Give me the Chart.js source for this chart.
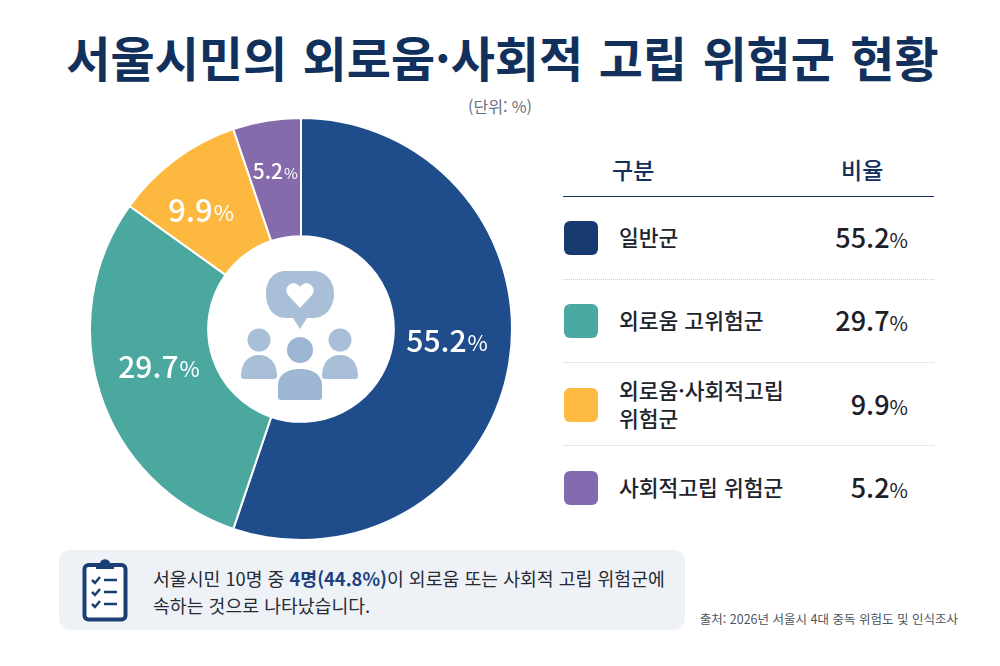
<!DOCTYPE html>
<html lang="ko">
<head>
<meta charset="utf-8">
<title>서울시민의 외로움·사회적 고립 위험군 현황</title>
<script src="https://cdn.jsdelivr.net/npm/chart.js@4"></script>
<style>
  html, body { margin: 0; padding: 0; background: #fff; }
  body { width: 1000px; height: 666px; position: relative; overflow: hidden;
         font-family: "Noto Sans CJK KR", "Noto Sans", sans-serif; color: #20242c; }
  .abs { position: absolute; }
  #title { left: 0; width: 1005px; top: 22px; text-align: center; font-size: 48px; font-weight: 700;
           color: #12305c; line-height: 68px; white-space: nowrap; word-spacing: 2px; }
  #unit { left: 0; width: 1000px; top: 95px; text-align: center; font-size: 16px; color: #67707e; line-height: 22px; }
  #chart-wrap { left: 89px; top: 117px; width: 424px; height: 424px; }
  #center-icon { left: 236px; top: 268px; }
  .head { top: 154px; font-size: 23px; font-weight: 500; color: #12305c; line-height: 30px; }
  #head-rule { left: 563px; top: 196px; width: 371px; border-top: 1.5px solid #1b3565; }
  .rule { left: 563px; width: 371px; border-top: 1.5px dotted #c9cfd8; }
  .swatch { left: 564px; width: 34px; height: 34px; border-radius: 6px; }
  .name { left: 619px; width: 200px; font-size: 21.500px; font-weight: 500; line-height: 28px; transform: translateY(-50%); white-space: nowrap; }
  .val { right: 92px; font-size: 27px; font-weight: 500; line-height: 32px; transform: translateY(-50%); color: #1d2026; }
  .val small { font-size: 20px; font-weight: 400; }
  #note { left: 59px; top: 550px; width: 626px; height: 80px; border-radius: 11px; background: #eef2f7; }
  #note-text { left: 153px; top: 565px; font-size: 18.300px; line-height: 27px; color: #262a33; white-space: nowrap; }
  #note-text b { color: #1c417f; font-weight: 700; }
  #source { right: 42px; top: 609px; font-size: 12.500px; line-height: 20px; color: #4d5561; white-space: nowrap; }
</style>
</head>
<body>
<div id="title" class="abs">서울시민의 외로움·사회적 고립 위험군 현황</div>
<div id="unit" class="abs">(단위: %)</div>

<div id="chart-wrap" class="abs"><canvas id="pie" width="424" height="424"></canvas></div>

<svg id="center-icon" class="abs" width="130" height="136" viewBox="0 0 130 136">
  <g fill="#a9bfd8">
    <path d="M50 3h27c13 0 21 10 21 23s-8 24-21 24h-6l-7 11-7-11h-7c-13 0-20-11-20-24S37 3 50 3z"/>
    <circle cx="23" cy="72" r="11.500"/><path d="M5 108c0-14 8-21 18-21s18 7 18 21c0 2-1 3-3 3H8c-2 0-3-1-3-3z"/>
    <circle cx="104" cy="72" r="11.500"/><path d="M86 108c0-14 8-21 18-21s18 7 18 21c0 2-1 3-3 3H89c-2 0-3-1-3-3z"/>
  </g>
  <g fill="#9db6d3">
    <circle cx="64" cy="82" r="13"/>
    <path d="M42 129v-11c0-12 10-17 22-17s22 5 22 17v11c0 2-1 3-3 3H45c-2 0-3-1-3-3z"/>
  </g>
  <path d="M64 40L52 27c-6-8 6-17 12-8 6-9 18 0 12 8z" fill="#fff"/>
</svg>

<div class="abs head" style="left:612px">구분</div>
<div class="abs head" style="left:841px">비율</div>
<div id="head-rule" class="abs"></div>
<div id="legend"></div>

<div id="note" class="abs"></div>
<svg class="abs" style="left:82px;top:557px" width="46" height="66" viewBox="0 0 46 66">
  <rect x="2.500" y="8" width="41" height="54.500" rx="4" fill="#fff" stroke="#1b3e74" stroke-width="4"/>
  <path d="M14 8c0-2 3-2 4-2 1-5 9-5 10 0 1 0 4 0 4 2v4H14z" fill="#1b3e74"/>
  <g fill="none" stroke="#1b3e74" stroke-width="2.500">
    <path d="M10 23l3 3 5-6M22 23h13M10 35l3 3 5-6M22 35h13M10 47l3 3 5-6M22 47h13"/>
  </g>
</svg>
<div id="note-text" class="abs">서울시민 10명 중 <b>4명(44.8%)</b>이 외로움 또는 사회적 고립 위험군에<br>속하는 것으로 나타났습니다.</div>
<div id="source" class="abs">출처: 2026년 서울시 4대 중독 위험도 및 인식조사</div>

<script>
const categories = ['일반군', '외로움 고위험군', '외로움·사회적고립\n위험군', '사회적고립 위험군'];
const shares = [55.2, 29.7, 9.9, 5.2];
const sliceColors = ['#1f4d8c', '#4aa89f', '#fdb93f', '#866bac'];
const swatchColors = ['#173a70', '#4aa9a0', '#fdba40', '#8369ad'];
const rowCenters = [238, 321, 405, 488];
const ruleTops = [279, 362, 445];

// 조각 위의 수치 라벨. 원본은 조각 중심에서 조금씩 벗어나 있어서 nudge로 맞춘다
const labelNudge = [[2, -12], [-3, -7], [-13, -1], [-2, -14]];
const labelSizes = [30, 30, 31, 21];

const sliceLabels = {
    id: 'sliceLabels',
    afterDatasetsDraw(chart) {
        const { ctx } = chart;
        chart.getDatasetMeta(0).data.forEach((arc, i) => {
            const mid = (arc.startAngle + arc.endAngle) / 2;
            const r = arc.innerRadius + (arc.outerRadius - arc.innerRadius) * 0.45;
            const x = arc.x + Math.cos(mid) * r + labelNudge[i][0];
            const y = arc.y + Math.sin(mid) * r + labelNudge[i][1];
            const big = labelSizes[i];
            const num = shares[i].toFixed(1);
            const family = '"Noto Sans CJK KR", sans-serif';
            ctx.save();
            ctx.fillStyle = '#fff';
            ctx.textBaseline = 'middle';
            ctx.font = `500 ${big}px ${family}`;
            const numWidth = ctx.measureText(num).width;
            ctx.font = `400 ${Math.round(big * 0.72)}px ${family}`;
            const pctWidth = ctx.measureText('%').width;
            const left = x - (numWidth + pctWidth + 1) / 2;
            ctx.textAlign = 'left';
            ctx.fillText('%', left + numWidth + 1, y + 2);
            ctx.font = `500 ${big}px ${family}`;
            ctx.fillText(num, left, y);
            ctx.restore();
        });
    }
};

new Chart(document.getElementById('pie'), {
    type: 'doughnut',
    data: {
        labels: categories,
        datasets: [{ data: shares, backgroundColor: sliceColors, borderColor: '#fff', borderWidth: 2 }]
    },
    options: {
        responsive: false,
        animation: false,
        cutout: '44%',
        layout: { padding: 0 },
        plugins: { legend: { display: false }, tooltip: { enabled: false } }
    },
    plugins: [sliceLabels]
});

// 오른쪽 표
const legend = document.getElementById('legend');
categories.forEach((name, i) => {
    const swatch = document.createElement('div');
    swatch.className = 'abs swatch';
    swatch.style.top = (rowCenters[i] - 17) + 'px';
    swatch.style.background = swatchColors[i];

    const label = document.createElement('div');
    label.className = 'abs name';
    label.style.top = (rowCenters[i] - 1) + 'px';
    label.innerHTML = name.replace('\n', '<br>');

    const value = document.createElement('div');
    value.className = 'abs val';
    value.style.top = rowCenters[i] + 'px';
    value.innerHTML = `${shares[i].toFixed(1)}<small>%</small>`;

    legend.append(swatch, label, value);
});
for (const top of ruleTops) {
    const rule = document.createElement('div');
    rule.className = 'abs rule';
    rule.style.top = top + 'px';
    legend.appendChild(rule);
}
</script>
</body>
</html>
